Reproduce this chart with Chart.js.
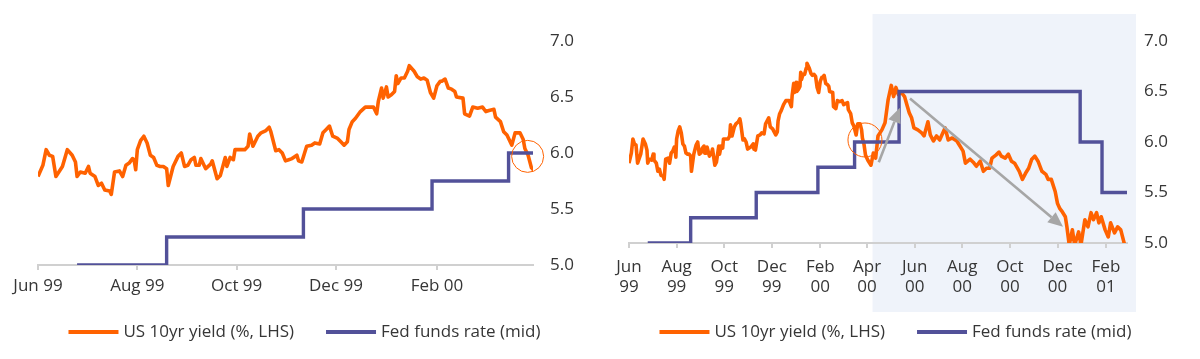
<!DOCTYPE html>
<html><head><meta charset="utf-8">
<script src="https://cdn.jsdelivr.net/npm/chart.js@4/dist/chart.umd.min.js"></script>
<style>
html,body{margin:0;padding:0;background:#fff;}
#wrap{position:relative;width:1200px;height:359px;overflow:hidden;}
.panel{position:absolute;top:0;width:600px;height:359px;}
</style></head><body>
<div id="wrap">
<div class="panel" style="left:0"><canvas id="left" width="600" height="359"></canvas></div>
<div class="panel" style="left:600px"><canvas id="right" width="600" height="359"></canvas></div>
</div>
<script>
// ---------------- DATA ----------------
const START_DATE = '1999-06-01';           // day 0 of the x axis
const seriesNames = ['US 10yr yield (%, LHS)', 'Fed funds rate (mid)'];

// US 10yr yield: days since START_DATE, value (%)
const yieldDays = [0,3,5,7,9,11,15,18,21,23,24,26,29,31,32,35,37,39,41,44,45,47,50,52,54,56,58,59,60,61,63,65,67,69,71,73,75,77,79,80,83,86,88,90,92,94,96,97,99,100,103,106,107,110,112,115,116,118,120,121,127,129,130,132,135,137,140,142,143,146,148,150,152,154,156,159,160,162,165,168,170,173,175,177,179,181,184,186,188,190,191,193,195,198,201,205,206,208,209,211,212,214,215,217,219,220,221,223,225,227,228,231,233,235,237,239,241,243,245,247,248,250,252,254,256,257,261,262,265,267,270,273,275,277,280,281,284,286,288,291,293,296,298,299,301,303,306,310,313,316,319,324,328,332,336,339,342,345,349,353,356,359,362,365,370,375,378,383,386,390,394,398,405,409,414,420,424,428,431,437,441,445,450,454,458,462,465,470,474,477,482,486,490,494,500,504,508,512,516,520,524,529,534,537,541,546,549,552,555,559,561,564,568,571,576,579,584,588,592,595,599,602,605,610,614,617,622,626,630,635];
const yieldValues = [5.79,5.89,6.03,5.98,5.97,5.79,5.88,6.03,5.98,5.92,5.79,5.83,5.82,5.88,5.82,5.79,5.71,5.73,5.67,5.66,5.63,5.83,5.84,5.79,5.89,5.91,5.95,5.94,5.85,6.03,6.11,6.15,6.09,5.98,5.96,5.89,5.88,5.88,5.86,5.71,5.88,5.97,6.00,5.88,5.89,5.94,5.96,5.89,5.89,5.95,5.86,5.90,5.93,5.77,5.80,5.96,5.88,5.96,5.94,6.03,6.03,6.06,6.17,6.06,6.15,6.18,6.20,6.23,6.19,6.02,6.03,6.00,5.93,5.94,5.95,5.98,5.93,5.92,6.06,6.07,6.09,6.08,6.18,6.21,6.24,6.15,6.13,6.10,6.07,6.10,6.21,6.28,6.31,6.37,6.41,6.41,6.41,6.35,6.46,6.58,6.49,6.59,6.50,6.52,6.55,6.69,6.62,6.67,6.67,6.73,6.78,6.73,6.68,6.66,6.67,6.65,6.54,6.49,6.60,6.64,6.64,6.66,6.58,6.57,6.55,6.50,6.49,6.35,6.33,6.41,6.40,6.41,6.37,6.38,6.39,6.32,6.28,6.19,6.16,6.07,6.18,6.18,6.12,6.04,5.98,5.87,5.82,5.77,5.89,5.84,6.06,6.12,6.19,6.42,6.56,6.45,6.54,6.47,6.49,6.45,6.37,6.29,6.24,6.14,6.12,6.09,6.06,6.20,6.07,6.01,6.06,6.02,6.14,6.02,6.04,6.01,5.96,5.91,5.79,5.83,5.80,5.76,5.81,5.71,5.74,5.74,5.84,5.87,5.90,5.86,5.84,5.88,5.81,5.79,5.71,5.63,5.69,5.74,5.83,5.86,5.81,5.71,5.68,5.63,5.63,5.51,5.39,5.34,5.31,5.26,5.16,4.98,5.13,4.98,5.11,4.98,5.23,5.16,5.30,5.23,5.30,5.20,5.26,5.13,5.06,5.20,5.10,5.16,5.13,4.98];

// Fed funds rate (mid): change days since START_DATE, new level (%)
const fedDays   = [24, 79, 163, 242, 289, 346, 578, 606, 638];
const fedValues = [5.0, 5.25, 5.5, 5.75, 6.0, 6.5, 6.0, 5.5, 5.5];

// Axis ticks
const tickDates = ['1999-06-01','1999-08-01','1999-10-01','1999-12-01','2000-02-01','2000-04-01','2000-06-01','2000-08-01','2000-10-01','2000-12-01','2001-02-01'];
const leftTickLabels  = ['Jun 99','Aug 99','Oct 99','Dec 99','Feb 00'];
const rightTickLabels = [['Jun','99'],['Aug','99'],['Oct','99'],['Dec','99'],['Feb','00'],['Apr','00'],['Jun','00'],['Aug','00'],['Oct','00'],['Dec','00'],['Feb','01']];
const yTicks = [5.0, 5.5, 6.0, 6.5, 7.0];

// Panel ranges (days since START_DATE)
const leftRangeDays  = [0, 304];
const rightRangeDays = [0, 638];

// Annotations (data coordinates: day, value)
const shadeStartDay = 312;
const leftCircle  = [300.7, 5.97];
const rightCircle = [302.3, 6.02];
const arrowStarts = [[320, 5.80], [360, 6.43]];
const arrowEnds   = [[347, 6.34], [556, 5.16]];

// ---------------- HELPERS ----------------
const dayOf = d => Math.round((Date.parse(d) - Date.parse(START_DATE)) / 86400000);
const tickDays = tickDates.map(dayOf);
const ORANGE = '#FF6200', INDIGO = '#525199', GREY = '#a6a6a6', TXT = '#363636';
const FONT = {family: "'Open Sans', sans-serif", size: 17};

function drawArrow(ctx, x1, y1, x2, y2) {
  const a = Math.atan2(y2 - y1, x2 - x1), hl = 15, hw = 6.5;
  const bx = x2 - hl * Math.cos(a), by = y2 - hl * Math.sin(a);
  ctx.beginPath(); ctx.moveTo(x1, y1); ctx.lineTo(bx, by); ctx.stroke();
  ctx.beginPath(); ctx.moveTo(x2, y2);
  ctx.lineTo(bx + hw * Math.sin(a), by - hw * Math.cos(a));
  ctx.lineTo(bx - hw * Math.sin(a), by + hw * Math.cos(a));
  ctx.closePath(); ctx.fill();
}

function makeChart(id, o) {
  const [xmin, xmax] = o.range;
  const ticksHere = tickDays.filter(d => d >= xmin && d <= xmax);
  const decor = {
    id: 'decor',
    beforeDraw(chart) {
      if (!o.shade) return;
      const {ctx, chartArea: ca, scales: {x}} = chart;
      ctx.save();
      ctx.fillStyle = '#eff3fa';
      const l = x.getPixelForValue(shadeStartDay);
      ctx.fillRect(l, ca.top - 27, ca.right + 9 - l, ca.bottom + 69 - (ca.top - 27));
      ctx.restore();
    },
    afterDatasetsDraw(chart) {
      const {ctx, scales: {x, y}} = chart;
      ctx.save();
      ctx.strokeStyle = ORANGE; ctx.lineWidth = 1;
      ctx.beginPath();
      ctx.arc(x.getPixelForValue(o.circle[0]), y.getPixelForValue(o.circle[1]), o.circleR, 0, Math.PI * 2);
      ctx.stroke();
      if (o.arrows) {
        ctx.strokeStyle = GREY; ctx.fillStyle = GREY; ctx.lineWidth = 2.6;
        arrowStarts.forEach((s, i) => {
          const e = arrowEnds[i];
          drawArrow(ctx, x.getPixelForValue(s[0]), y.getPixelForValue(s[1]),
                         x.getPixelForValue(e[0]), y.getPixelForValue(e[1]));
        });
      }
      ctx.restore();
    },
    afterDraw(chart) {
      const ctx = chart.ctx;
      ctx.save();
      ctx.font = `${FONT.size}px ${FONT.family}`;
      ctx.textBaseline = 'middle';
      const sw = 50, gap = 5, itemGap = 32;
      const items = chart.data.datasets.slice().sort((a, b) => a.legendIndex - b.legendIndex);
      const widths = items.map(d => sw + gap + ctx.measureText(d.label).width);
      const total = widths.reduce((a, b) => a + b, 0) + itemGap * (items.length - 1);
      let xx = o.legendCenter - total / 2;
      const yy = 332;
      items.forEach((d, i) => {
        ctx.strokeStyle = d.borderColor; ctx.lineWidth = 4;
        ctx.beginPath(); ctx.moveTo(xx, yy); ctx.lineTo(xx + sw, yy); ctx.stroke();
        ctx.fillStyle = TXT; ctx.textAlign = 'left';
        ctx.fillText(d.label, xx + sw + gap, yy);
        xx += widths[i] + itemGap;
      });
      ctx.restore();
    }
  };
  return new Chart(document.getElementById(id), {
    type: 'line',
    data: {
      datasets: [
        {label: seriesNames[0], legendIndex: 0, order: 2,
         data: yieldDays.map((d, i) => ({x: d, y: yieldValues[i]})),
         borderColor: ORANGE, backgroundColor: ORANGE, borderWidth: 3.6,
         pointRadius: 0, tension: 0, borderJoinStyle: 'round'},
        {label: seriesNames[1], legendIndex: 1, order: 1,
         data: fedDays.map((d, i) => ({x: d, y: fedValues[i]})),
         borderColor: INDIGO, backgroundColor: INDIGO, borderWidth: 3.4,
         pointRadius: 0, stepped: 'before'}
      ]
    },
    options: {
      responsive: false, animation: false, devicePixelRatio: 1,
      layout: {padding: {left: o.padLeft, top: 41, right: 0, bottom: 0}},
      plugins: {legend: {display: false}, tooltip: {enabled: false}},
      scales: {
        x: {
          type: 'linear', min: xmin, max: xmax,
          afterBuildTicks: s => { s.ticks = ticksHere.map(v => ({value: v})); },
          afterFit: s => { s.height = o.xHeight; },
          grid: {display: true, drawOnChartArea: false, drawTicks: true, tickLength: 5, color: '#d0d0d0', lineWidth: 2},
          border: {display: true, color: '#d0d0d0', width: 2},
          ticks: {autoSkip: false, maxRotation: 0, padding: o.tickPad, color: TXT, font: FONT,
                  callback: v => o.labels[tickDays.indexOf(v)]}
        },
        y: {
          position: 'right', min: 5, max: 7,
          afterBuildTicks: s => { s.ticks = yTicks.map(v => ({value: v})); },
          afterFit: s => { s.width = o.yWidth; },
          grid: {display: false, drawTicks: false},
          border: {display: false},
          ticks: {padding: 17, color: TXT, font: FONT, callback: v => v.toFixed(1)}
        }
      }
    },
    plugins: [decor]
  });
}

makeChart('left', {
  range: leftRangeDays, labels: leftTickLabels, padLeft: 38, xHeight: 94, yWidth: 67,
  tickPad: 6, circle: leftCircle, circleR: 16, arrows: false, shade: false, legendCenter: 304.5
});
makeChart('right', {
  range: rightRangeDays, labels: rightTickLabels, padLeft: 29, xHeight: 116, yWidth: 73,
  tickPad: 9, circle: rightCircle, circleR: 17, arrows: true, shade: true, legendCenter: 295.5
});
</script>
</body></html>
